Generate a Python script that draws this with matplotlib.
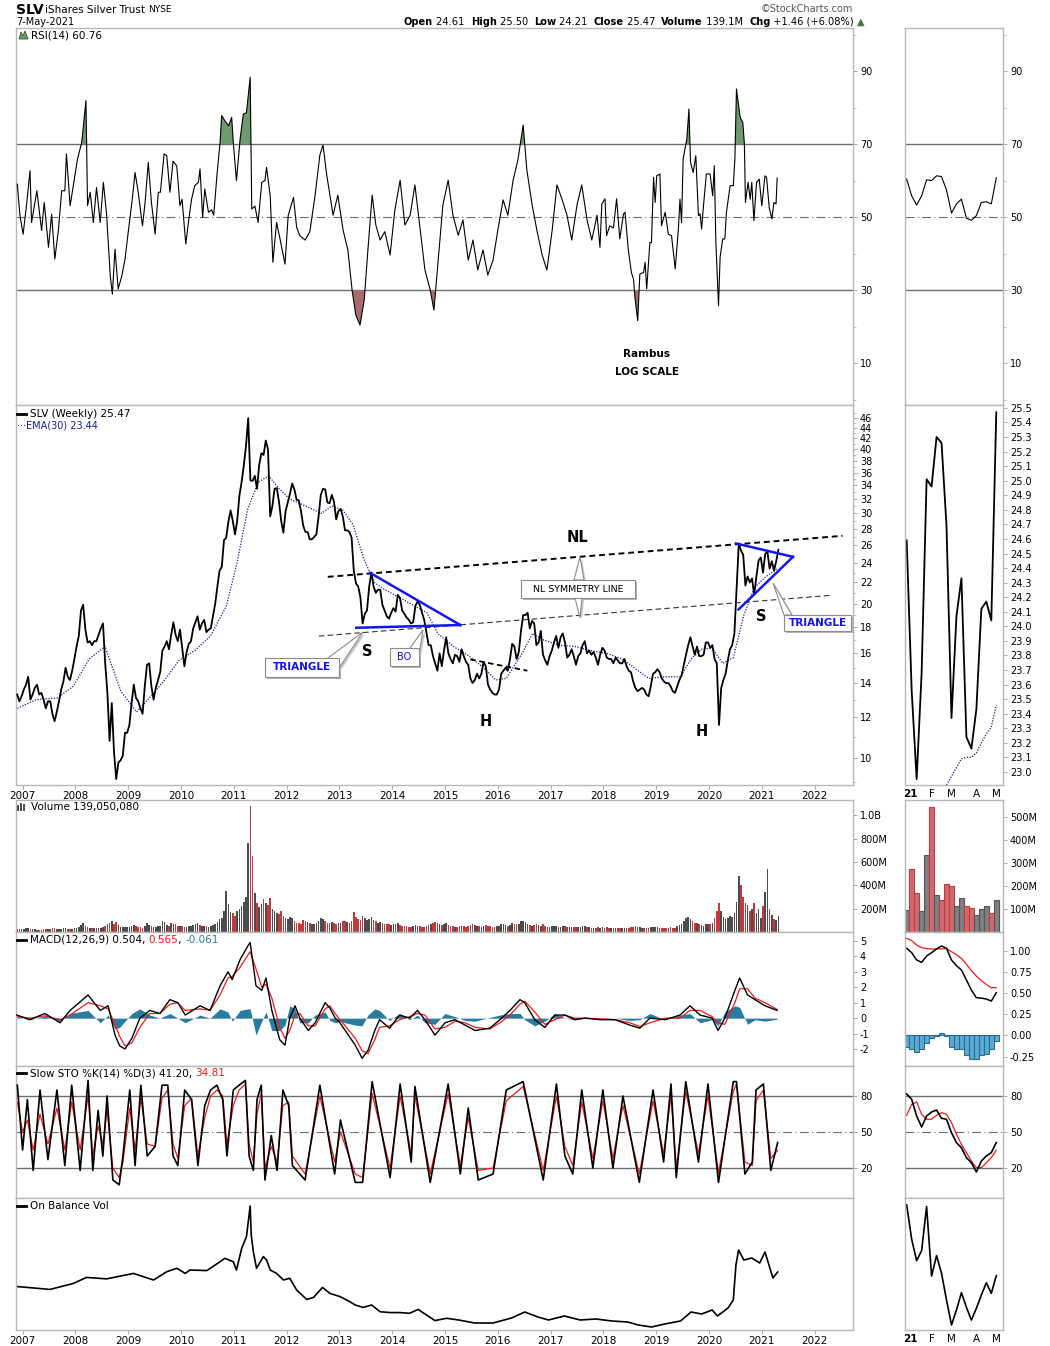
import numpy as np
import matplotlib
matplotlib.use("Agg")
import matplotlib.pyplot as plt
from matplotlib.patches import Polygon, Rectangle
from matplotlib.ticker import NullFormatter

plt.rcParams['font.family'] = ['DejaVu Sans']
plt.rcParams['axes.unicode_minus'] = False

# ======================= DATA =======================
# Main chart: SLV closes sampled twice a month, x in decimal years
price_dates = 2006.9375 + np.arange(347) / 24.0
price_values = [13.3, 12.9,
    13.2, 13.6, 13.9, 14.4, 13.0, 13.3, 13.7, 13.9, 13.3, 13.4, 13.0, 12.5, 12.9, 12.9, 12.2, 11.8, 12.3, 12.9, 13.6, 14.1, 15.0, 14.4, 14.2, 14.8,
    15.6, 16.5, 17.3, 19.4, 19.9, 17.8, 16.8, 16.9, 16.6, 16.9, 16.9, 17.4, 17.9, 18.3, 15.3, 13.4, 10.8, 12.8, 10.3, 9.1, 9.8, 9.9, 10.1, 11.2,
    11.2, 11.6, 12.8, 13.9, 13.1, 12.9, 12.5, 12.2, 13.8, 15.2, 15.3, 13.8, 13.0, 13.7, 14.2, 14.7, 16.2, 16.5, 16.9, 16.3, 17.4, 18.4, 17.4, 16.9,
    17.8, 16.4, 15.1, 16.1, 16.7, 16.9, 17.9, 18.4, 18.9, 17.8, 18.3, 18.6, 17.6, 17.8, 17.9, 18.9, 20.0, 21.6, 23.2, 23.6, 26.6, 26.9, 28.9, 30.4,
    29.0, 27.3, 29.0, 32.5, 34.5, 37.2, 40.6, 46.0, 34.8, 34.7, 35.5, 33.5, 37.3, 39.3, 39.0, 41.6, 40.0, 29.6, 31.0, 33.5, 33.6, 31.6, 29.0, 27.5,
    30.3, 31.5, 32.8, 34.3, 33.4, 31.9, 31.8, 30.3, 28.4, 27.6, 27.6, 26.7, 26.7, 27.0, 27.3, 29.6, 32.6, 33.5, 33.4, 31.5, 31.4, 32.6, 31.6, 29.2,
    30.3, 30.6, 29.6, 27.8, 27.8, 27.6, 26.9, 23.2, 21.9, 21.6, 20.6, 18.3, 19.1, 19.4, 21.6, 23.0, 21.6, 21.0, 21.3, 21.3, 19.9, 19.4, 18.9, 18.7,
    19.2, 19.6, 19.3, 20.8, 20.5, 19.4, 19.1, 18.8, 18.6, 18.3, 18.4, 19.8, 20.2, 19.9, 19.2, 18.6, 17.6, 16.6, 16.6, 15.8, 15.3, 14.8, 16.0, 15.1,
    16.2, 17.2, 16.0, 15.6, 15.3, 15.9, 15.8, 15.4, 16.3, 15.8, 15.4, 15.2, 14.3, 14.0, 14.2, 14.6, 14.3, 14.6, 15.4, 15.1, 13.9, 13.6, 13.4, 13.3,
    13.3, 13.6, 14.6, 14.8, 15.0, 14.8, 15.6, 16.7, 16.5, 15.6, 16.1, 17.7, 19.0, 19.0, 19.2, 17.9, 18.5, 18.3, 16.6, 16.8, 17.7, 15.9, 15.5, 15.2,
    15.8, 16.2, 16.8, 17.3, 16.4, 17.2, 17.5, 16.8, 15.7, 15.9, 16.3, 15.8, 15.2, 15.8, 16.0, 16.6, 16.9, 16.0, 16.2, 15.9, 16.1, 15.7, 15.2, 15.9,
    16.4, 16.2, 15.7, 15.6, 15.6, 15.3, 15.7, 15.5, 15.3, 15.3, 15.6, 15.1, 14.8, 14.7, 14.1, 13.7, 13.5, 13.6, 13.7, 13.6, 13.3, 13.2, 13.8, 14.6,
    14.7, 14.9, 14.7, 14.3, 14.1, 14.0, 14.0, 13.8, 13.5, 13.4, 13.8, 14.2, 14.5, 15.2, 15.9, 16.6, 17.2, 16.5, 15.9, 16.5, 15.8, 15.8, 15.9, 16.8,
    16.8, 16.4, 16.6, 15.6, 15.3, 11.6, 13.7, 14.2, 14.6, 15.5, 16.3, 16.6, 17.5, 21.5, 26.2, 25.4, 24.9, 21.7, 22.6, 22.0, 22.4, 20.8, 22.6, 24.3,
    24.6, 23.0, 25.0, 25.3, 23.4, 24.2, 23.2, 24.2, 25.47]

volume_millions = [25, 22,
    28, 24, 30, 35, 26, 22, 24, 20, 18, 20, 22, 28, 24, 22, 30, 34, 24, 22, 26, 30, 32, 26, 24, 22,
    30, 34, 45, 60, 75, 50, 40, 36, 32, 30, 30, 34, 36, 40, 50, 65, 80, 90, 70, 85, 60, 45, 40, 45,
    40, 45, 55, 60, 50, 45, 40, 38, 55, 75, 60, 50, 42, 40, 48, 55, 95, 85, 60, 55, 75, 70, 65, 55,
    55, 50, 45, 45, 50, 55, 60, 65, 75, 60, 55, 50, 48, 45, 50, 60, 70, 85, 110, 120, 180, 350, 240, 170,
    160, 140, 180, 200, 220, 260, 300, 760, 1076, 650, 330, 250, 210, 240, 280, 250, 230, 290, 200, 180, 160, 150, 180, 140,
    120, 110, 130, 120, 90, 80, 75, 70, 100, 90, 85, 80, 70, 65, 75, 90, 120, 110, 90, 80, 75, 85, 80, 70,
    80, 75, 90, 95, 85, 80, 90, 170, 130, 110, 100, 140, 120, 100, 110, 130, 100, 90, 80, 85, 75, 70, 70, 65,
    60, 65, 70, 80, 60, 55, 50, 48, 45, 45, 50, 60, 55, 50, 45, 45, 55, 60, 70, 75, 85, 80, 70, 60,
    70, 75, 60, 55, 50, 45, 45, 50, 55, 50, 45, 50, 60, 70, 60, 55, 50, 45, 55, 60, 55, 50, 45, 45,
    50, 55, 65, 70, 60, 55, 60, 75, 70, 65, 70, 95, 90, 85, 70, 60, 55, 60, 70, 60, 55, 65, 50, 45,
    45, 50, 50, 55, 45, 45, 50, 50, 45, 40, 40, 45, 45, 40, 45, 50, 50, 45, 40, 38, 36, 35, 40, 38,
    40, 38, 40, 38, 35, 34, 35, 34, 32, 30, 35, 38, 36, 40, 45, 50, 45, 40, 38, 36, 34, 32, 40, 45,
    45, 40, 38, 36, 34, 32, 35, 40, 38, 36, 50, 60, 70, 90, 120, 130, 110, 90, 80, 75, 70, 60, 55, 65,
    70, 65, 75, 120, 180, 245, 180, 130, 110, 120, 140, 130, 160, 260, 480, 400, 300, 250, 230, 180, 200, 250, 160, 200,
    120, 220, 340, 543, 201, 148, 114, 101, 139]

ema_dates = [2006.94, 2007.3, 2007.7, 2008.0, 2008.3, 2008.6, 2008.9, 2009.2, 2009.5, 2009.8,
             2010.0, 2010.3, 2010.6, 2010.9, 2011.1, 2011.3, 2011.5, 2011.7, 2011.9, 2012.1,
             2012.4, 2012.7, 2012.9, 2013.1, 2013.3, 2013.5, 2013.7, 2013.9, 2014.2, 2014.5,
             2014.7, 2014.9, 2015.2, 2015.5, 2015.8, 2016.0, 2016.2, 2016.5, 2016.7, 2016.9,
             2017.2, 2017.5, 2017.8, 2018.1, 2018.4, 2018.7, 2018.9, 2019.2, 2019.5, 2019.7,
             2019.9, 2020.1, 2020.3, 2020.5, 2020.7, 2020.9, 2021.1, 2021.34]
ema_values = [12.5, 13.0, 13.1, 13.8, 15.6, 16.5, 13.5, 12.3, 13.3, 14.5,
              15.5, 16.2, 17.3, 19.8, 24.0, 30.5, 34.5, 35.5, 33.5, 32.0,
              31.0, 30.0, 31.0, 30.5, 28.5, 24.5, 22.0, 21.3, 20.5, 19.7,
              19.2, 17.5, 16.5, 15.8, 14.9, 14.2, 14.3, 16.0, 17.5, 17.0,
              16.6, 16.5, 16.2, 16.0, 15.6, 14.8, 14.3, 14.4, 14.4, 15.6,
              16.3, 16.4, 15.3, 15.7, 19.0, 21.5, 22.5, 23.44]

rsi_points = [
    (2006.94, 59.0), (2006.99, 50.4), (2007.05, 45.3), (2007.12, 54.0), (2007.18, 62.7), (2007.21, 48.5),
    (2007.31, 57.2), (2007.40, 46.3), (2007.45, 54.0), (2007.53, 41.7), (2007.59, 50.8), (2007.65, 38.5),
    (2007.72, 46.7), (2007.78, 57.2), (2007.84, 57.2), (2007.87, 67.3), (2007.94, 53.1), (2008.00, 58.6),
    (2008.08, 65.9), (2008.16, 70.5), (2008.24, 81.9), (2008.27, 53.1), (2008.32, 56.8), (2008.38, 48.5),
    (2008.44, 58.1), (2008.51, 48.5), (2008.57, 59.5), (2008.63, 50.8), (2008.70, 33.9), (2008.74, 28.9),
    (2008.79, 41.2), (2008.85, 30.3), (2008.92, 33.9), (2008.98, 38.5), (2009.04, 45.8), (2009.11, 54.0),
    (2009.17, 62.2), (2009.23, 56.8), (2009.31, 47.6), (2009.36, 54.0), (2009.42, 65.0), (2009.48, 54.0),
    (2009.55, 45.3), (2009.61, 56.8), (2009.65, 56.8), (2009.72, 67.3), (2009.77, 66.8), (2009.83, 56.8),
    (2009.89, 65.3), (2009.96, 64.0), (2010.02, 53.1), (2010.06, 54.9), (2010.13, 42.6), (2010.18, 48.5),
    (2010.24, 54.9), (2010.30, 58.6), (2010.37, 59.5), (2010.40, 63.2), (2010.45, 49.9), (2010.49, 57.7),
    (2010.56, 51.3), (2010.62, 52.0), (2010.66, 50.5), (2010.72, 61.3), (2010.78, 70.5), (2010.81, 77.8),
    (2010.87, 76.4), (2010.94, 75.0), (2011.00, 77.3), (2011.03, 70.5), (2011.09, 60.0), (2011.16, 71.4),
    (2011.22, 78.2), (2011.28, 78.6), (2011.35, 88.3), (2011.38, 52.2), (2011.44, 53.0), (2011.50, 48.5),
    (2011.57, 59.5), (2011.63, 60.0), (2011.66, 63.6), (2011.73, 55.8), (2011.78, 37.6), (2011.85, 48.5),
    (2011.91, 44.4), (2012.01, 37.1), (2012.07, 50.4), (2012.17, 55.4), (2012.23, 47.2), (2012.29, 44.9),
    (2012.39, 43.7), (2012.48, 46.0), (2012.58, 56.0), (2012.67, 67.0), (2012.73, 69.7), (2012.80, 61.5),
    (2012.92, 50.5), (2013.01, 56.0), (2013.11, 46.4), (2013.20, 41.0), (2013.28, 30.0), (2013.35, 23.2),
    (2013.43, 20.4), (2013.51, 27.3), (2013.58, 41.0), (2013.66, 56.0), (2013.73, 47.8), (2013.81, 43.7),
    (2013.90, 46.0), (2014.00, 39.6), (2014.09, 51.9), (2014.19, 60.1), (2014.28, 47.8), (2014.38, 50.5),
    (2014.47, 58.8), (2014.57, 46.4), (2014.66, 35.5), (2014.76, 30.0), (2014.83, 24.5), (2014.91, 38.2),
    (2015.00, 53.3), (2015.10, 60.1), (2015.19, 50.5), (2015.29, 45.0), (2015.38, 49.2), (2015.48, 38.2),
    (2015.57, 43.7), (2015.66, 35.5), (2015.76, 41.0), (2015.85, 34.1), (2015.95, 38.2), (2016.04, 46.4),
    (2016.14, 54.7), (2016.23, 50.5), (2016.33, 60.1), (2016.42, 65.6), (2016.52, 75.2), (2016.59, 62.9),
    (2016.69, 53.3), (2016.78, 46.4), (2016.88, 39.6), (2016.97, 35.5), (2017.07, 46.4), (2017.16, 58.8),
    (2017.26, 54.7), (2017.35, 50.5), (2017.44, 43.7), (2017.54, 53.3), (2017.63, 58.8), (2017.73, 49.2),
    (2017.82, 43.7), (2017.92, 50.5), (2017.975, 41.7), (2018.01, 53.6), (2018.07, 55.0), (2018.10, 44.9),
    (2018.16, 47.6), (2018.23, 47.0), (2018.29, 55.0), (2018.35, 44.0), (2018.42, 50.8), (2018.45, 51.3),
    (2018.51, 41.2), (2018.57, 34.8), (2018.61, 33.0), (2018.64, 27.5), (2018.69, 21.6), (2018.73, 34.4),
    (2018.80, 34.8), (2018.83, 37.6), (2018.86, 30.3), (2018.92, 43.0), (2018.95, 43.0), (2018.99, 60.9),
    (2019.02, 54.0), (2019.05, 61.3), (2019.11, 61.8), (2019.14, 47.6), (2019.21, 51.3), (2019.27, 45.3),
    (2019.33, 44.9), (2019.40, 35.8), (2019.46, 46.7), (2019.49, 54.9), (2019.52, 48.5), (2019.55, 65.9),
    (2019.62, 71.4), (2019.66, 79.6), (2019.69, 65.0), (2019.74, 62.2), (2019.79, 66.8), (2019.84, 50.4),
    (2019.87, 50.9), (2019.90, 46.7), (2019.93, 52.2), (2019.99, 61.8), (2020.06, 61.8), (2020.11, 55.8),
    (2020.14, 64.1), (2020.17, 43.0), (2020.22, 25.7), (2020.25, 39.0), (2020.30, 44.0), (2020.34, 44.0),
    (2020.37, 51.3), (2020.44, 58.6), (2020.50, 58.6), (2020.53, 65.9), (2020.56, 85.1), (2020.63, 77.3),
    (2020.68, 75.9), (2020.71, 70.0), (2020.73, 54.0), (2020.78, 59.5), (2020.82, 54.9), (2020.85, 59.5),
    (2020.89, 49.0), (2020.94, 59.5), (2020.99, 60.4), (2021.04, 53.1), (2021.10, 61.3), (2021.13, 60.9),
    (2021.18, 52.6), (2021.23, 49.5), (2021.27, 54.0), (2021.31, 53.6), (2021.33, 60.7)]

# (date, MACD line, signal line, histogram)
macd_points = [
    (2006.93, 0.2, 0.1, 0.1), (2007.18, -0.1, 0.0, -0.1), (2007.46, 0.3, 0.15, 0.15), (2007.75, -0.3, -0.1, -0.2),
    (2007.94, 0.5, 0.2, 0.3), (2008.28, 1.5, 1.0, 0.5), (2008.51, 0.5, 0.8, -0.3), (2008.66, 0.8, 0.6, 0.2),
    (2008.79, -1.1, -0.4, -0.7), (2008.88, -1.8, -1.2, -0.6), (2008.98, -2.0, -1.8, -0.2), (2009.11, -1.3, -1.6, 0.3),
    (2009.26, 0.0, -0.6, 0.6), (2009.45, 0.5, 0.3, 0.2), (2009.64, 0.3, 0.3, 0.0), (2009.83, 1.2, 0.9, 0.3),
    (2009.98, 1.0, 1.0, 0.0), (2010.12, 0.2, 0.5, -0.3), (2010.40, 0.8, 0.6, 0.2), (2010.59, 0.5, 0.5, 0.0),
    (2010.78, 2.1, 1.5, 0.6), (2010.93, 3.0, 2.6, 0.4), (2011.01, 2.5, 2.7, -0.2), (2011.16, 3.8, 3.3, 0.5),
    (2011.31, 4.7, 4.1, 0.6), (2011.35, 4.9, 4.3, 0.6), (2011.46, 2.1, 3.2, -1.1), (2011.57, 1.8, 2.0, -0.2),
    (2011.65, 2.6, 2.2, 0.4), (2011.76, 0.5, 1.3, -0.8), (2011.91, -1.4, -0.6, -0.8), (2012.01, -1.75, -1.3, -0.45),
    (2012.10, 0.0, -0.8, 0.8), (2012.20, 0.8, 0.2, 0.6), (2012.29, 0.0, 0.3, -0.3), (2012.45, -0.8, -0.5, -0.3),
    (2012.58, -0.3, -0.5, 0.2), (2012.77, 1.0, 0.6, 0.4), (2012.86, 0.65, 0.8, -0.15), (2012.96, 0.0, 0.3, -0.3),
    (2013.05, -0.3, -0.1, -0.2), (2013.15, -0.8, -0.5, -0.3), (2013.34, -1.75, -1.3, -0.45), (2013.47, -2.6, -2.1, -0.5),
    (2013.58, -2.1, -2.3, 0.2), (2013.71, -0.8, -1.4, 0.6), (2013.80, -0.1, -0.6, 0.5), (2013.99, -0.65, -0.5, -0.15),
    (2014.18, 0.2, -0.1, 0.3), (2014.37, 0.0, 0.1, -0.1), (2014.52, 0.5, 0.3, 0.2), (2014.66, -0.1, 0.2, -0.3),
    (2014.85, -1.1, -0.7, -0.4), (2015.04, -0.3, -0.6, 0.3), (2015.23, -0.1, -0.2, 0.1), (2015.42, -0.45, -0.3, -0.15),
    (2015.61, -0.8, -0.6, -0.2), (2015.89, -0.65, -0.7, 0.05), (2016.08, -0.1, -0.3, 0.2), (2016.27, 0.5, 0.2, 0.3),
    (2016.46, 1.2, 0.9, 0.3), (2016.55, 1.0, 1.1, -0.1), (2016.74, -0.1, 0.4, -0.5), (2016.93, -0.6, -0.4, -0.2),
    (2017.12, 0.2, -0.1, 0.3), (2017.31, 0.2, 0.2, 0.0), (2017.50, -0.1, 0.0, -0.1), (2017.69, 0.0, 0.0, 0.0),
    (2017.98, -0.1, -0.05, -0.05), (2018.26, -0.1, -0.1, 0.0), (2018.54, -0.45, -0.3, -0.15), (2018.73, -0.65, -0.55, -0.1),
    (2018.92, 0.0, -0.3, 0.3), (2019.21, -0.1, 0.0, -0.1), (2019.49, 0.2, 0.0, 0.2), (2019.68, 0.8, 0.5, 0.3),
    (2019.87, 0.2, 0.5, -0.3), (2020.10, 0.0, 0.1, -0.1), (2020.21, -0.8, -0.3, -0.5), (2020.34, 0.0, -0.4, 0.4),
    (2020.53, 1.8, 1.0, 0.8), (2020.62, 2.6, 1.9, 0.7), (2020.77, 1.5, 1.9, -0.4), (2020.91, 1.2, 1.3, -0.1),
    (2021.10, 0.8, 1.0, -0.2), (2021.33, 0.504, 0.565, -0.061)]

# (date, %K, %D)
sto_points = [
    (2006.94, 89, 75), (2007.04, 35, 50), (2007.13, 77, 60), (2007.24, 18, 35), (2007.37, 85, 65), (2007.52, 27, 40),
    (2007.69, 85, 70), (2007.84, 22, 35), (2007.97, 89, 75), (2008.13, 18, 35), (2008.28, 93, 80), (2008.37, 18, 30),
    (2008.47, 68, 55), (2008.56, 30, 40), (2008.64, 80, 68), (2008.75, 10, 20), (2008.87, 6, 12), (2008.94, 30, 25),
    (2009.07, 85, 70), (2009.17, 22, 35), (2009.28, 89, 78), (2009.40, 30, 40), (2009.55, 38, 38), (2009.68, 89, 78),
    (2009.79, 89, 85), (2009.89, 30, 40), (2009.98, 22, 28), (2010.11, 85, 72), (2010.24, 77, 78), (2010.36, 22, 30),
    (2010.49, 72, 62), (2010.60, 85, 80), (2010.72, 89, 85), (2010.83, 77, 80), (2010.91, 30, 40), (2011.03, 85, 72),
    (2011.14, 89, 85), (2011.26, 93, 90), (2011.33, 30, 40), (2011.41, 18, 25), (2011.48, 77, 65), (2011.56, 89, 82),
    (2011.63, 10, 20), (2011.75, 47, 38), (2011.86, 18, 25), (2011.97, 85, 72), (2012.08, 72, 75), (2012.15, 22, 30),
    (2012.39, 10, 15), (2012.67, 89, 80), (2012.95, 15, 25), (2013.06, 60, 50), (2013.34, 8, 15), (2013.48, 8, 12),
    (2013.66, 92, 82), (2014.00, 12, 20), (2014.19, 90, 80), (2014.40, 25, 32), (2014.47, 88, 80), (2014.76, 8, 15),
    (2015.10, 90, 82), (2015.33, 15, 22), (2015.48, 70, 62), (2015.67, 10, 18), (2015.95, 15, 20), (2016.20, 85, 76),
    (2016.52, 92, 88), (2016.90, 10, 18), (2017.15, 90, 80), (2017.31, 30, 38), (2017.46, 15, 22), (2017.63, 85, 75),
    (2017.84, 20, 28), (2018.03, 85, 76), (2018.22, 20, 28), (2018.41, 80, 72), (2018.72, 8, 15), (2018.98, 85, 76),
    (2019.18, 25, 32), (2019.32, 90, 80), (2019.42, 12, 20), (2019.60, 92, 84), (2019.84, 25, 32), (2020.02, 90, 80),
    (2020.22, 8, 16), (2020.50, 92, 84), (2020.56, 92, 90), (2020.72, 15, 25), (2020.86, 25, 22), (2020.93, 85, 76),
    (2021.07, 90, 85), (2021.21, 18, 28), (2021.34, 41.2, 34.81)]

obv_points = [
    (2006.94, 1.52), (2007.56, 1.42), (2008.00, 1.63), (2008.25, 1.84), (2008.63, 1.79), (2009.14, 1.98),
    (2009.52, 1.75), (2009.77, 2.04), (2009.96, 2.16), (2010.12, 1.98), (2010.21, 2.10), (2010.53, 2.08),
    (2010.78, 2.39), (2010.87, 2.51), (2011.03, 2.39), (2011.09, 2.10), (2011.19, 2.86), (2011.28, 3.27),
    (2011.35, 4.34), (2011.37, 3.33), (2011.41, 2.74), (2011.47, 2.16), (2011.60, 2.57), (2011.66, 2.45),
    (2011.73, 2.10), (2011.85, 1.98), (2011.98, 1.75), (2012.10, 1.81), (2012.23, 1.40), (2012.42, 1.07),
    (2012.55, 1.14), (2012.72, 1.49), (2012.86, 1.28), (2013.05, 1.17), (2013.24, 0.99), (2013.34, 0.875),
    (2013.49, 0.79), (2013.65, 0.875), (2013.81, 0.64), (2014.00, 0.61), (2014.18, 0.61), (2014.37, 0.585),
    (2014.53, 0.72), (2014.69, 0.525), (2014.85, 0.33), (2015.07, 0.41), (2015.30, 0.35), (2015.60, 0.245),
    (2015.95, 0.245), (2016.30, 0.42), (2016.55, 0.63), (2016.80, 0.455), (2017.00, 0.35), (2017.30, 0.49),
    (2017.60, 0.35), (2017.90, 0.385), (2018.20, 0.315), (2018.50, 0.28), (2018.70, 0.175), (2018.95, 0.105),
    (2019.20, 0.21), (2019.50, 0.315), (2019.70, 0.63), (2019.90, 0.56), (2020.10, 0.70), (2020.20, 0.49),
    (2020.40, 0.77), (2020.50, 1.05), (2020.55, 2.275), (2020.60, 2.80), (2020.70, 2.45), (2020.85, 2.52),
    (2021.00, 2.345), (2021.10, 2.73), (2021.25, 1.82), (2021.34, 2.03)]

# Right-hand 2021 zoom panels: 19 weekly values (Jan .. 7-May-2021)
week_labels = ['21', 'F', 'M', 'A', 'M']
week_label_pos = [0.7, 5.0, 9.0, 14.0, 18.0]
r_price = [24.59, 23.56, 22.95, 23.68, 25.01, 24.96, 25.30, 25.26, 24.69, 23.37,
           24.07, 24.33, 23.24, 23.16, 23.43, 24.12, 24.17, 24.04, 25.47]
r_ema_weeks = [8, 9, 10, 11, 12, 13, 14, 15, 16, 17, 18]
r_ema = [22.91, 22.97, 23.03, 23.09, 23.10, 23.10, 23.13, 23.20, 23.26, 23.31, 23.46]
r_rsi = [60.4, 55.8, 53.3, 55.8, 60.2, 60.0, 61.3, 61.1, 57.4, 51.1,
         53.6, 54.9, 49.7, 49.1, 50.4, 54.0, 54.2, 53.6, 60.76]
r_volume = [97, 275, 170, 93, 336, 543, 162, 141, 210, 201,
            114, 148, 114, 104, 75, 101, 114, 83, 139]
r_macd = [1.028, 0.976, 0.890, 0.862, 0.937, 0.976, 1.020, 1.055, 1.028, 0.890,
          0.823, 0.772, 0.654, 0.535, 0.445, 0.441, 0.429, 0.406, 0.504]
r_signal = [1.146, 1.118, 1.067, 1.035, 1.024, 1.020, 1.020, 1.020, 1.024, 0.988,
            0.953, 0.909, 0.839, 0.764, 0.701, 0.646, 0.602, 0.563, 0.565]
r_hist = [-0.134, -0.165, -0.193, -0.154, -0.083, -0.035, -0.010, 0.035, -0.008, -0.134,
          -0.165, -0.165, -0.236, -0.283, -0.283, -0.236, -0.213, -0.165, -0.061]
r_stok = [81.7, 77.2, 63.3, 54.2, 63.3, 66.7, 68.3, 61.4, 60.6, 49.4,
          41.1, 36.9, 28.6, 24.4, 16.7, 25.8, 30.0, 32.8, 41.2]
r_stod = [63.9, 73.1, 75.0, 64.7, 60.6, 60.6, 63.9, 66.1, 64.7, 57.8,
          48.1, 39.7, 32.8, 25.8, 20.3, 20.3, 24.4, 28.6, 34.81]
r_obv = [676, 403, 233, 313, 663, 111, 273, 133, -80, -278,
         -159, -21, -138, -239, -146, -40, 58, -27, 114]

# Analyst annotations on the price panel (date, price)
nl_line = [(2012.82, 22.56), (2022.57, 27.12)]
symmetry_line = [(2012.65, 17.29), (2022.34, 20.76)]
left_tri_top = [(2013.62, 22.97), (2015.33, 18.17)]
left_tri_base = [(2013.36, 17.95), (2015.33, 18.17)]
right_tri_top = [(2020.55, 26.21), (2021.63, 24.68)]
right_tri_bottom = [(2020.60, 19.49), (2021.63, 24.68)]
downtrend_2015 = [(2015.52, 15.57), (2016.60, 14.80)]

# ======================= FIGURE =======================
W, H = 1050, 1346
fig = plt.figure(figsize=(W / 100, H / 100), dpi=100)
fig.patch.set_facecolor('white')

LX0, LX1 = 16, 853
RX0, RX1 = 905, 1003
FRAME = '#b8b8b8'
XL = (2006.915, 2022.767)
RXL = (-0.34, 19.35)
years = list(range(2007, 2023))
wk = np.arange(19)


def add_ax(x0, y0, x1, y1):
    ax = fig.add_axes([x0 / W, 1 - y1 / H, (x1 - x0) / W, (y1 - y0) / H])
    for s in ax.spines.values():
        s.set_color(FRAME)
        s.set_linewidth(1.0)
    ax.yaxis.tick_right()
    ax.tick_params(axis='y', which='major', labelsize=7, length=3, width=0.6,
                   color='#999999', pad=2)
    ax.tick_params(axis='y', which='minor', length=2, width=0.5, color='#aaaaaa')
    ax.set_xticks([])
    ax.tick_params(axis='x', which='both', length=0)
    return ax


def ftext(x, y, s, **kw):
    kw.setdefault('va', 'center')
    return fig.text(x / W, 1 - y / H, s, **kw)


renderer = fig.canvas.get_renderer()


def rich(x, y, parts, size=7.5):
    for s, color, weight in parts:
        t = ftext(x, y, s, color=color, fontweight=weight, fontsize=size, ha='left')
        bb = t.get_window_extent(renderer=renderer)
        x += bb.width


def year_axis(ax):
    ax.set_xticks([y + 0.04 for y in years])
    ax.set_xticklabels([str(y) for y in years])
    ax.tick_params(axis='x', which='major', length=3, width=0.6, color='#999999',
                   labelsize=7.5, pad=1)


def right_month_axis(ax):
    ax.set_xticks(week_label_pos)
    ax.set_xticklabels(week_labels)
    ax.tick_params(axis='x', which='major', length=0, labelsize=7.5, pad=3)
    ax.get_xticklabels()[0].set_fontweight('bold')


GRID_C = '#6e6e6e'

# ---------------- RSI ----------------
rsi_d = np.array([p[0] for p in rsi_points])
rsi_v = np.array([p[1] for p in rsi_points])
for (x0, x1, dates, vals, xl) in [(LX0, LX1, rsi_d, rsi_v, XL), (RX0, RX1, wk, np.array(r_rsi), RXL)]:
    ax = add_ax(x0, 28, x1, 405)
    ax.set_xlim(xl)
    ax.set_ylim(-1.5, 101.8)
    for lv in (70, 30):
        ax.axhline(lv, color=GRID_C, lw=1.0, zorder=1)
    ax.axhline(50, color=GRID_C, lw=0.8, ls=(0, (8, 3, 1, 3)), zorder=1)
    ax.fill_between(dates, vals, 70, where=vals > 70, interpolate=True, color='#6f9a6f', lw=0, zorder=2)
    ax.fill_between(dates, vals, 30, where=vals < 30, interpolate=True, color='#a86d6d', lw=0, zorder=2)
    ax.plot(dates, vals, color='black', lw=0.8, zorder=3)
    ax.set_yticks([10, 30, 50, 70, 90])
    ax.set_yticks([0, 20, 40, 60, 80, 100], minor=True)
    ax.yaxis.set_minor_formatter(NullFormatter())

# ---------------- PRICE ----------------
axp = add_ax(LX0, 405, LX1, 785)
axp.set_yscale('log')
axp.set_xlim(XL)
axp.set_ylim(8.86, 48.8)
axp.plot(ema_dates, ema_values, color='#1a1aa6', lw=0.9, ls=(0, (1, 1.2)), zorder=2)
axp.plot(price_dates, price_values, color='black', lw=1.3, zorder=3)
pt = [10, 12, 14, 16, 18, 20, 22, 24, 26, 28, 30, 32, 34, 36, 38, 40, 42, 44, 46]
axp.set_yticks(pt)
axp.set_yticklabels([str(v) for v in pt])
axp.set_yticks([9, 11, 13, 15, 17, 19, 21, 23, 25, 27, 29, 31, 33, 35, 37, 39, 41, 43, 45, 47], minor=True)
axp.yaxis.set_minor_formatter(NullFormatter())
year_axis(axp)


def seg(ax, pts, **kw):
    ax.plot([p[0] for p in pts], [p[1] for p in pts], **kw)


seg(axp, nl_line, color='black', lw=1.4, ls=(0, (3, 2)), zorder=4)
seg(axp, symmetry_line, color='#333333', lw=0.8, ls=(0, (5, 3)), zorder=4)
seg(axp, downtrend_2015, color='black', lw=1.3, ls=(0, (3, 2)), zorder=4)
for tri in (left_tri_top, left_tri_base, right_tri_top, right_tri_bottom):
    seg(axp, tri, color='#1515ee', lw=1.8, zorder=5)

axr = add_ax(RX0, 405, RX1, 785)
axr.set_xlim(RXL)
axr.set_ylim(22.91, 25.52)
axr.plot(r_ema_weeks, r_ema, color='#1a1aa6', lw=0.9, ls=(0, (1, 1.2)))
axr.plot(wk, r_price, color='black', lw=1.3)
rt = np.round(np.arange(23.0, 25.51, 0.1), 1)
axr.set_yticks(rt)
axr.set_yticklabels(['%.1f' % v for v in rt])
right_month_axis(axr)

# ---------------- VOLUME ----------------
axv = add_ax(LX0, 800, LX1, 932)
axv.set_xlim(XL)
axv.set_ylim(0, 1130)
vol = np.array(volume_millions)
pv = np.array(price_values)
up = np.concatenate([[True], pv[1:] >= pv[:-1]])
axv.bar(price_dates, vol, width=1 / 24 * 0.8, color=np.where(up, '#4c4c4c', '#c03a3e'), lw=0)
axv.set_yticks([200, 400, 600, 800, 1000])
axv.set_yticklabels(['200M', '400M', '600M', '800M', '1.0B'])

axvr = add_ax(RX0, 800, RX1, 932)
axvr.set_xlim(RXL)
axvr.set_ylim(0, 575)
rp = np.array(r_price)
rup = np.concatenate([[True], rp[1:] >= rp[:-1]])
axvr.bar(wk, r_volume, width=0.95, color=np.where(rup, '#808080', '#d06a72'),
         edgecolor=np.where(rup, '#555555', '#c03a3e'), lw=0.8)
axvr.set_yticks([100, 200, 300, 400, 500])
axvr.set_yticklabels(['100M', '200M', '300M', '400M', '500M'])

# ---------------- MACD ----------------
md = [p[0] for p in macd_points]
axm = add_ax(LX0, 932, LX1, 1066)
axm.set_xlim(XL)
axm.set_ylim(-3.1, 5.58)
axm.fill_between(md, [p[3] for p in macd_points], 0, color='#2b7b9e', lw=0, zorder=1)
axm.plot(md, [p[2] for p in macd_points], color='#ee1c1c', lw=0.9, zorder=2)
axm.plot(md, [p[1] for p in macd_points], color='black', lw=1.0, zorder=3)
axm.set_yticks([-2, -1, 0, 1, 2, 3, 4, 5])

axmr = add_ax(RX0, 932, RX1, 1066)
axmr.set_xlim(RXL)
axmr.set_ylim(-0.36, 1.22)
axmr.bar(wk, r_hist, width=1.0, color='#5aaad4', edgecolor='#2a6d90', lw=0.8)
axmr.plot(wk, r_signal, color='#ee1c1c', lw=0.9)
axmr.plot(wk, r_macd, color='black', lw=1.1)
mt = [-0.25, 0.0, 0.25, 0.5, 0.75, 1.0]
axmr.set_yticks(mt)
axmr.set_yticklabels(['%.2f' % v for v in mt])

# ---------------- SLOW STO ----------------
sd = [p[0] for p in sto_points]
for (x0, x1, xl) in [(LX0, LX1, XL), (RX0, RX1, RXL)]:
    ax = add_ax(x0, 1066, x1, 1198)
    ax.set_xlim(xl)
    ax.set_ylim(-5, 105)
    for lv in (80, 20):
        ax.axhline(lv, color=GRID_C, lw=1.0, zorder=1)
    ax.axhline(50, color=GRID_C, lw=0.8, ls=(0, (8, 3, 1, 3)), zorder=1)
    ax.set_yticks([20, 50, 80])
    if x0 == LX0:
        ax.plot(sd, [p[2] for p in sto_points], color='#ee1c1c', lw=0.9, zorder=2)
        ax.plot(sd, [p[1] for p in sto_points], color='black', lw=1.2, zorder=3)
    else:
        ax.plot(wk, r_stod, color='#ee1c1c', lw=0.9, zorder=2)
        ax.plot(wk, r_stok, color='black', lw=1.2, zorder=3)

# ---------------- OBV ----------------
axo = add_ax(LX0, 1198, LX1, 1330)
axo.set_xlim(XL)
axo.set_ylim(0, 4.62)
axo.plot([p[0] for p in obv_points], [p[1] for p in obv_points], color='black', lw=1.2)
axo.set_yticks([])
year_axis(axo)

axor = add_ax(RX0, 1198, RX1, 1330)
axor.set_xlim(RXL)
axor.set_ylim(-318, 731)
axor.plot(wk, r_obv, color='black', lw=1.2)
axor.set_yticks([])
right_month_axis(axor)

# ======================= TEXT & ANNOTATIONS =======================
ftext(16, 10, 'SLV', fontsize=10, fontweight='bold')
ftext(45, 10, 'iShares Silver Trust', fontsize=7.5)
ftext(148, 10, 'NYSE', fontsize=6.5)
ftext(16, 22, '7-May-2021', fontsize=7)
ftext(853, 9, '\u00a9StockCharts.com', fontsize=7, color='#555555', ha='right')
rich(404, 22, [('Open', 'black', 'bold'), (' 24.61  ', 'black', 'normal'),
               ('High', 'black', 'bold'), (' 25.50  ', 'black', 'normal'),
               ('Low', 'black', 'bold'), (' 24.21  ', 'black', 'normal'),
               ('Close', 'black', 'bold'), (' 25.47  ', 'black', 'normal'),
               ('Volume', 'black', 'bold'), (' 139.1M  ', 'black', 'normal'),
               ('Chg', 'black', 'bold'), (' +1.46 (+6.08%) ', 'black', 'normal'),
               ('\u25b2', '#3a7a3a', 'normal')], size=7.1)

ov = fig.add_axes([0, 0, 1, 1], zorder=20)
ov.set_xlim(0, W)
ov.set_ylim(H, 0)
ov.axis('off')
ov.patch.set_alpha(0)

# legend headers
ov.add_patch(Polygon([(19, 39), (21, 32), (23, 36), (25, 31), (28, 39)], fc='#6f9a6f', ec='#2c5a2c', lw=0.6))
ftext(31, 35, 'RSI(14) 60.76', fontsize=7.5)
ov.plot([17, 26], [414, 414], color='black', lw=2)
ftext(30, 414, 'SLV (Weekly) 25.47', fontsize=7.5)
ftext(17, 425, '\u00b7\u00b7\u00b7EMA(30) 23.44', fontsize=7, color='#1a1aa6')
for i, hgt in enumerate([6, 8, 7]):
    ov.add_patch(Rectangle((17 + i * 3, 811 - hgt), 2.2, hgt, fc='#505050', ec='none'))
ftext(31, 807, 'Volume 139,050,080', fontsize=7.5)
ov.plot([17, 26], [940, 940], color='black', lw=2)
rich(30, 940, [('MACD(12,26,9) 0.504, ', 'black', 'normal'), ('0.565', '#ee1c1c', 'normal'),
               (', ', 'black', 'normal'), ('-0.061', '#2b7b9e', 'normal')])
ov.plot([17, 26], [1073, 1073], color='black', lw=2)
rich(30, 1073, [('Slow STO %K(14) %D(3) 41.20, ', 'black', 'normal'), ('34.81', '#ee1c1c', 'normal')])
ov.plot([17, 26], [1206, 1206], color='black', lw=2)
ftext(30, 1206, 'On Balance Vol', fontsize=7.5)

# RSI panel notes
ftext(646, 354, 'Rambus', fontsize=7.5, fontweight='bold', ha='center')
ftext(647, 372, 'LOG SCALE', fontsize=7.5, fontweight='bold', ha='center')

# pattern labels
for (x, y, s) in [(578, 537, 'NL'), (367, 651, 'S'), (761, 617, 'S'), (486, 722, 'H'), (702, 731, 'H')]:
    ftext(x, y, s, fontsize=10.5, fontweight='bold', ha='center')


def callout(box, wedges, text, color, weight, size):
    x0, y0, x1, y1 = box
    ov.add_patch(Rectangle((x0 + 2, y0 + 2), x1 - x0, y1 - y0, fc='#b5b5b5', ec='none'))
    for (b1, b2, tip) in wedges:
        ov.add_patch(Polygon([(b1[0] + 2, b1[1] + 2), (tip[0] + 2, tip[1] + 2), (b2[0] + 2, b2[1] + 2)],
                             fc='#c8c8c8', ec='none'))
        ov.add_patch(Polygon([b1, tip, b2], fc='white', ec='#8c8c8c', lw=0.8))
    ov.add_patch(Rectangle((x0, y0), x1 - x0, y1 - y0, fc='white', ec='#8c8c8c', lw=0.8))
    ov.text((x0 + x1) / 2, (y0 + y1) / 2, text, color=color, fontweight=weight, fontsize=size,
            ha='center', va='center')


callout((265, 658, 339, 677), [((328, 658), (339, 668), (363, 632))], 'TRIANGLE', '#1010ee', 'bold', 7.5)
callout((390, 648, 419, 666), [((410, 648), (419, 655), (423, 630))], 'BO', '#1010ee', 'normal', 7)
callout((521, 580, 635, 598), [((574, 580), (584, 580), (580, 557)), ((575, 598), (582, 598), (580, 618))],
        'NL SYMMETRY LINE', 'black', 'normal', 6.8)
callout((784, 615, 851, 631), [((784, 615), (792, 615), (773, 583))], 'TRIANGLE', '#1010ee', 'bold', 7.5)

fig.savefig('out.png', dpi=100, facecolor='white')
